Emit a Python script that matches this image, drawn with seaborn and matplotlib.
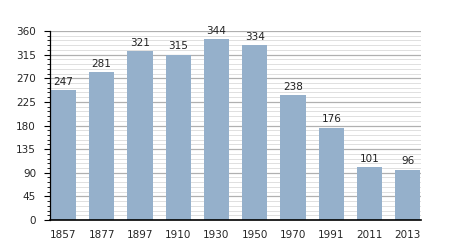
import matplotlib
matplotlib.use("Agg")
import matplotlib.pyplot as plt
import seaborn as sns
import pandas as pd
from matplotlib.ticker import MultipleLocator

years = ["1857", "1877", "1897", "1910", "1930", "1950", "1970", "1991", "2011", "2013"]
population = [247, 281, 321, 315, 344, 334, 238, 176, 101, 96]

df = pd.DataFrame({"year": years, "pop": population})

sns.set_theme(style="white")
plt.rcParams["font.family"] = ["DejaVu Sans"]

fig = plt.figure(figsize=(4.5, 2.5), dpi=100)
ax = fig.add_axes([0.111, 0.12, 0.825, 0.756])

sns.barplot(data=df, x="year", y="pop", color="#95b0cb", saturation=1, width=0.66,
            linewidth=0, edgecolor="none", ax=ax, zorder=3)

for i, v in enumerate(population):
    ax.text(i, v + 6, str(v), ha="center", va="bottom", fontsize=7.5, color="#222222", zorder=4)

ax.set_ylim(0, 360)
ax.set_xlim(-0.35, 9.35)
ax.yaxis.set_major_locator(MultipleLocator(45))
ax.yaxis.set_minor_locator(MultipleLocator(9))
ax.grid(axis="y", which="major", color="#b0b0b0", linewidth=0.9, zorder=0)
ax.grid(axis="y", which="minor", color="#e0e0e0", linewidth=0.7, zorder=0)
ax.set_axisbelow(True)
ax.set_xlabel("")
ax.set_ylabel("")
for s in ["top", "right"]:
    ax.spines[s].set_visible(False)
for s in ["left", "bottom"]:
    ax.spines[s].set_color("black")
    ax.spines[s].set_zorder(5)
ax.spines["left"].set_linewidth(0.9)
ax.spines["bottom"].set_linewidth(1.2)
ax.tick_params(axis="y", which="major", left=True, length=4, width=0.8, color="black", labelsize=7.5, pad=6)
ax.tick_params(axis="y", which="minor", left=True, length=2, width=0.6, color="black")
ax.tick_params(axis="x", which="both", bottom=False, labelsize=7.5, pad=1)

fig.savefig("out.png", dpi=100)
